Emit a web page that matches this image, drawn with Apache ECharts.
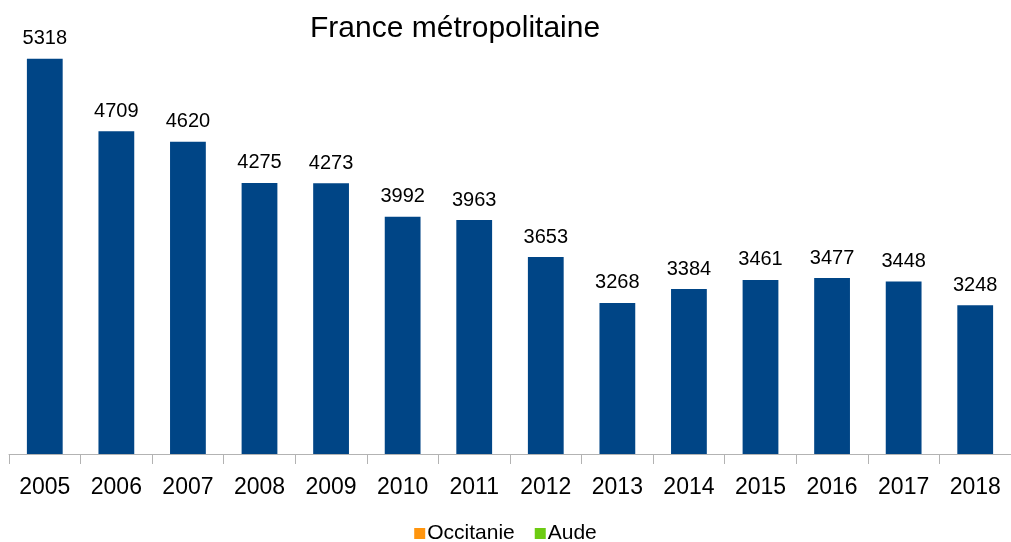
<!DOCTYPE html>
<html>
<head>
<meta charset="utf-8">
<script src="https://cdn.jsdelivr.net/npm/echarts@6/dist/echarts.min.js"></script>
<style>
  html, body { margin: 0; padding: 0; background: #fff; }
  #chart { width: 1011px; height: 542px; }
</style>
</head>
<body>
<div id="chart"></div>
<script>
  // données
  const annees = ['2005', '2006', '2007', '2008', '2009', '2010', '2011', '2012', '2013', '2014', '2015', '2016', '2017', '2018']
  const france = [5318, 4709, 4620, 4275, 4273, 3992, 3963, 3653, 3268, 3384, 3461, 3477, 3448, 3248]
  const occitanie = []
  const aude = []

  const chart = echarts.init(document.getElementById('chart'))
  chart.setOption({
    animation: false,
    textStyle: { fontFamily: 'Liberation Sans, Arial, sans-serif' },
    title: {
      text: 'France métropolitaine',
      left: 305,
      top: 9,
      textStyle: { fontSize: 30, fontWeight: 'normal', color: '#000' },
    },
    legend: {
      data: ['Occitanie', 'Aude'],
      left: 'center',
      top: 518,
      icon: 'rect',
      itemWidth: 11,
      itemHeight: 11,
      itemGap: 20,
      textStyle: { fontSize: 21, color: '#000', padding: [0, 0, 0, -3] },
    },
    grid: { left: 9, width: 1010, top: 37, height: 417 },
    xAxis: {
      type: 'category',
      data: annees,
      axisLine: { lineStyle: { color: '#b3b3b3', width: 1 } },
      axisTick: { show: true, length: 10, lineStyle: { color: '#b3b3b3', width: 1 } },
      axisLabel: { fontSize: 23, color: '#000', margin: 22 },
    },
    yAxis: {
      type: 'value',
      min: 2000,
      max: 5500,
      show: false,
      splitLine: { show: false },
    },
    series: [
      {
        name: 'France métropolitaine',
        type: 'bar',
        stack: 'a',
        barWidth: '50%',
        data: france,
        itemStyle: { color: '#004586' },
        label: { show: true, position: 'top', distance: 10, fontSize: 20, color: '#000' },
      },
      { name: 'Occitanie', type: 'bar', stack: 'a', data: occitanie, itemStyle: { color: '#ff950e' } },
      { name: 'Aude', type: 'bar', stack: 'a', data: aude, itemStyle: { color: '#6ccb12' } },
    ],
  })
</script>
</body>
</html>
